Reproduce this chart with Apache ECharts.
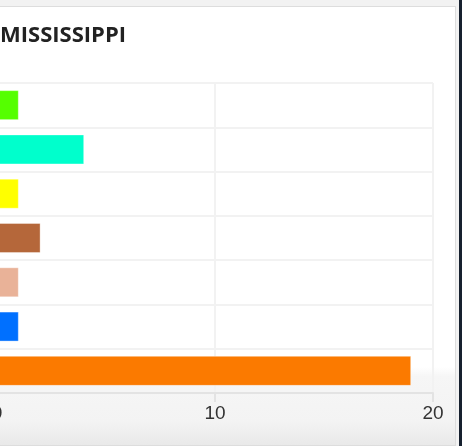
<!DOCTYPE html>
<html>
<head>
<meta charset="utf-8">
<script src="https://cdn.jsdelivr.net/npm/echarts@6/dist/echarts.min.js"></script>
<style>
  html, body { margin: 0; padding: 0; width: 462px; height: 446px; overflow: hidden; background: #f2f2f2; }
  #panel { position: absolute; left: -2px; top: 6px; width: 458px; height: 440px; background: #fff; border: 1px solid #dddddd; box-sizing: border-box; }
  #fade { position: absolute; left: 0; right: 0; top: 360px; bottom: 0; background: linear-gradient(#ffffff, #f6f6f6 12%, #f3f3f3 70%, #e9e9e9); }
  #edge { position: absolute; left: 459px; top: 0; width: 3px; height: 446px; background: #16202e; }
  #chart { position: absolute; left: -40px; top: 0; width: 497px; height: 446px; }
</style>
</head>
<body>
<div id="panel"><div id="fade"></div></div>
<div id="edge"></div>
<div id="chart"></div>
<script>
  // rows top to bottom
  let categories = ['A', 'B', 'C', 'D', 'E', 'F', 'G'];
  let values = [1, 4, 1, 2, 1, 1, 19];
  let colors = ['#55ff00', '#00ffcc', '#ffff00', '#b5673a', '#e9b298', '#0070ff', '#fb7a00'];
  let xTicks = [0, 10, 20];

  let myChart = echarts.init(document.getElementById('chart'));
  let options = {
    animation: false,
    title: {
      text: 'MISSISSIPPI',
      left: 40,
      top: 25,
      padding: 0,
      textStyle: { fontFamily: 'Open Sans', fontWeight: 700, fontSize: 22, color: '#222' }
    },
    grid: { left: 37, right: 24, top: 83, bottom: 53 },
    xAxis: {
      type: 'value',
      min: xTicks[0],
      max: xTicks[xTicks.length - 1],
      interval: xTicks[1] - xTicks[0],
      axisLine: { show: true, lineStyle: { color: '#e3e3e3', width: 2 } },
      axisTick: { show: true, length: 9, lineStyle: { color: '#e3e3e3', width: 2 } },
      axisLabel: { fontSize: 19, color: '#333', margin: 11, fontFamily: 'Liberation Sans' },
      splitLine: { lineStyle: { color: '#f2f2f2', width: 2 } }
    },
    yAxis: {
      type: 'category',
      inverse: true,
      data: categories,
      axisLine: { show: false },
      axisTick: { show: false },
      axisLabel: { show: false },
      splitLine: { show: true, lineStyle: { color: '#f2f2f2', width: 2 } }
    },
    series: [{
      type: 'bar',
      barWidth: 30,
      data: values.map((v, i) => ({
        value: v,
        itemStyle: { color: colors[i], borderColor: 'rgba(255,255,255,0.35)', borderWidth: 1 }
      }))
    }]
  };
  myChart.setOption(options);
</script>
</body>
</html>
